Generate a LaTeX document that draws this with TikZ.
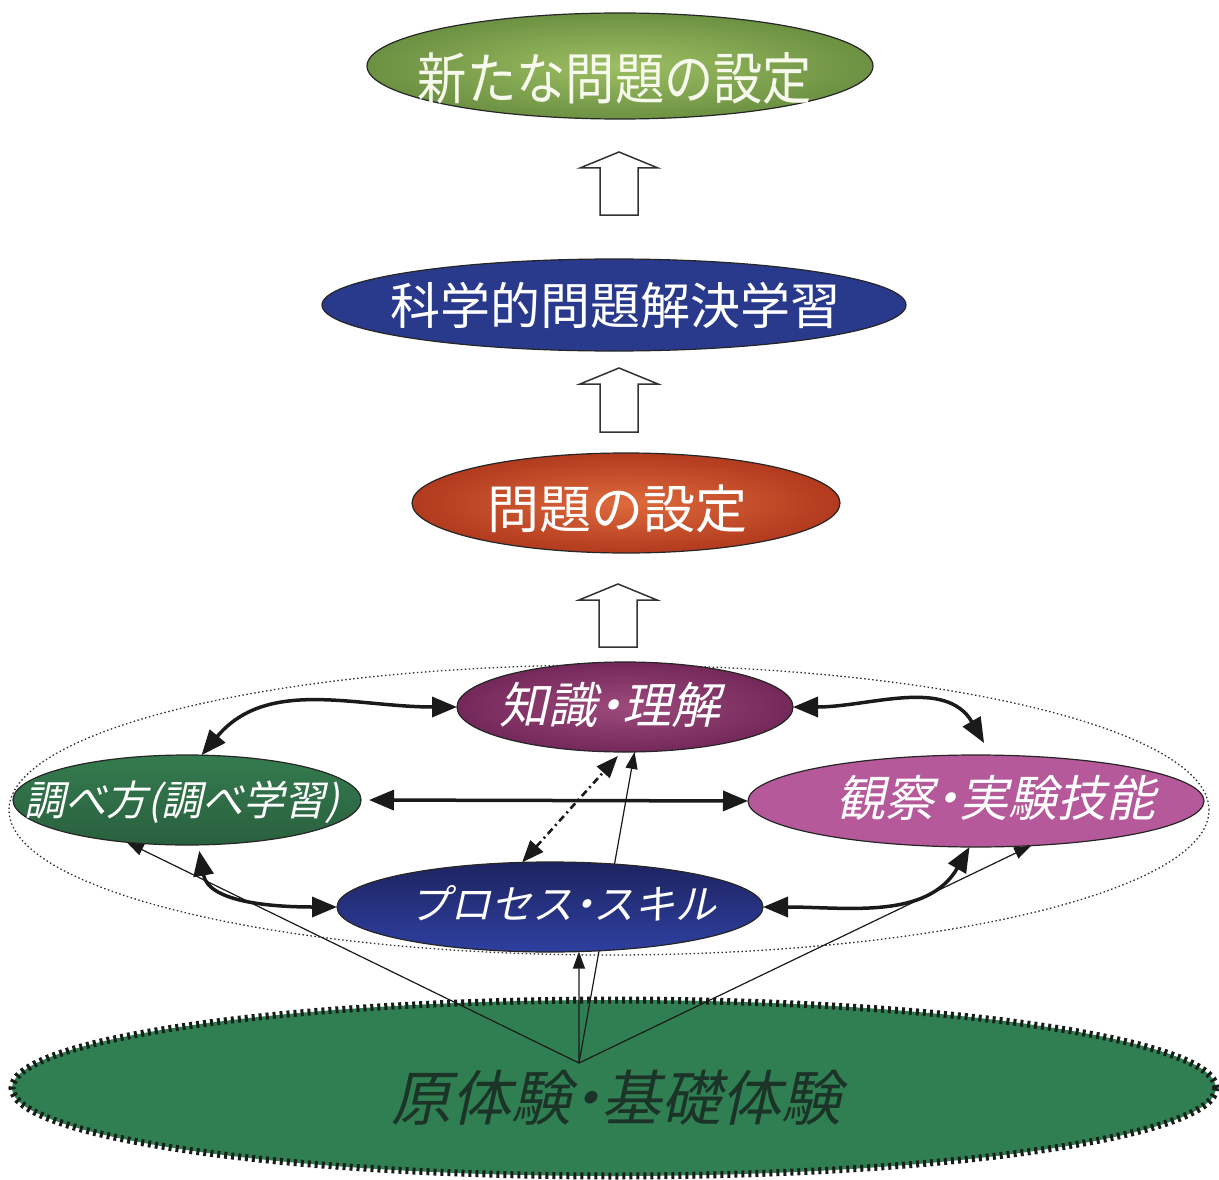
\documentclass[tikz,border=0pt]{standalone}
\usepackage{fontspec}
\newfontfamily\jp{Noto Sans CJK JP}
\newfontfamily\jpc[FakeStretch=0.88]{Noto Sans CJK JP}
\newfontfamily\jpit[FakeSlant=0.22]{Noto Sans CJK JP}
\newcommand{\nd}{\kern-.25em・\kern-.25em}
\usetikzlibrary{shapes.geometric,arrows.meta,calc}
\definecolor{topIn}{HTML}{9DBE63}
\definecolor{topOut}{HTML}{6C9142}
\definecolor{topTxt}{HTML}{F6F9EC}
\definecolor{kagakuC}{HTML}{29398C}
\definecolor{mondaiIn}{HTML}{DE6A3C}
\definecolor{mondaiOut}{HTML}{B23A1E}
\definecolor{chiIn}{HTML}{9C4A7B}
\definecolor{chiOut}{HTML}{74285A}
\definecolor{shiTop}{HTML}{357B4F}
\definecolor{shiBot}{HTML}{29603E}
\definecolor{kanEdge}{HTML}{B6599B}
\definecolor{kanMid}{HTML}{862E84}
\definecolor{proTop}{HTML}{1E2460}
\definecolor{proMid}{HTML}{0B0B1E}
\definecolor{proBot}{HTML}{2E3FA0}
\definecolor{baseG}{HTML}{2F7F52}
\definecolor{baseB}{HTML}{151E18}
\definecolor{baseTxt}{HTML}{1C3328}
\definecolor{lineC}{HTML}{1A1A1A}
\begin{document}
\begin{tikzpicture}[x=1pt,y=-1pt,
  el/.style={ellipse, draw=black!85, line width=1.2pt, inner sep=0pt, outer sep=0pt},
  lbl/.style={inner sep=0pt, text=white},
  dbl/.style={line width=3.5pt, draw=lineC, {Triangle[length=25pt,width=20pt]}-{Triangle[length=25pt,width=20pt]}},
  thinarr/.style={line width=1.2pt, draw=lineC, -{Triangle[length=17pt,width=12pt]}},
  dashdotarr/.style={line width=2.6pt, draw=lineC, dash pattern=on 7pt off 4pt on 2pt off 4pt, {Triangle[length=22pt,width=17pt]}-{Triangle[length=22pt,width=17pt]}},
  blockarrow/.style={draw=black!80, line width=1.5pt, fill=white, line join=miter}
]
\useasboundingbox (0,0) rectangle (1219,1180);
\fill[white] (0,0) rectangle (1219,1180);

% base ellipse
\node[ellipse, fill=baseG, draw=baseB, line width=7pt, dash pattern=on 3pt off 4pt,
      minimum width=1204pt, minimum height=176pt, inner sep=0pt] (base) at (614,1088) {};
\node[lbl, text=baseTxt, font=\jpit\fontsize{60}{64}\selectfont] (baseT) at (616,1098) {原体験\nd 基礎体験};

% dotted zone
\node[ellipse, draw=black!80, line width=1.3pt, dash pattern=on 1.5pt off 2.5pt,
      minimum width=1200pt, minimum height=290pt, inner sep=0pt] (zone) at (609,810) {};

% upper ellipses
\node[el, minimum width=506pt, minimum height=106pt, inner color=topIn, outer color=topOut] (top) at (620,66) {};
\node[lbl, text=topTxt, font=\jpc\fontsize{56}{60}\selectfont] (topT) at (615,78) {新たな問題の設定};

\node[el, minimum width=584pt, minimum height=92pt, fill=kagakuC] (kagaku) at (614,305) {};
\node[lbl, font=\jp\fontsize{50}{54}\selectfont] (kagakuT) at (615,305) {科学的問題解決学習};

\node[el, minimum width=428pt, minimum height=100pt, inner color=mondaiIn, outer color=mondaiOut] (mondai) at (626,503) {};
\node[lbl, font=\jp\fontsize{52}{56}\selectfont] (mondaiT) at (617,509) {問題の設定};

% source point of thin lines
\coordinate (src) at (579,1063);

% anchor shapes of the bottom cluster
\path node[el, draw=none, minimum width=336pt, minimum height=90pt] (kn) at (625,707) {}
      node[el, draw=none, minimum width=348pt, minimum height=90pt] (sh) at (187,800) {}
      node[el, draw=none, minimum width=456pt, minimum height=92pt] (kan) at (976,801) {}
      node[el, draw=none, minimum width=426pt, minimum height=90pt] (pro) at (550,907) {};

% thin lines (behind coloured ellipses)
\draw[thinarr] (src) -- (sh.-145);
\draw[thinarr] (src) -- (kn.-78);
\draw[thinarr] (src) -- (pro.-57);
\draw[thinarr] (src) -- (kan.-39.5);

% coloured ellipses of the cluster
\node[el, minimum width=336pt, minimum height=90pt, inner color=chiIn, outer color=chiOut] (knF) at (625,707) {};
\node[lbl, font=\jpit\fontsize{49}{52}\selectfont] (knT) at (610,705) {知識\nd 理解};

\node[el, minimum width=348pt, minimum height=90pt, top color=shiTop, bottom color=shiBot] (shF) at (187,800) {};
\node[lbl, font=\jpit\fontsize{41}{44}\selectfont] (shT) at (182,802) {調べ方(調べ学習)};

\node[el, minimum width=456pt, minimum height=92pt, top color=kanEdge, middle color=kanMid, bottom color=kanEdge] (kanF) at (976,801) {};
\node[lbl, font=\jpit\fontsize{49}{52}\selectfont] (kanT) at (996,798) {観察\nd 実験技能};

\node[el, minimum width=426pt, minimum height=90pt, top color=proTop, middle color=proMid, bottom color=proBot] (proF) at (550,907) {};
\node[lbl, font=\jpit\fontsize{41}{44}\selectfont] (proT) at (563,903) {プロセス\nd スキル};

% thick double arrows
\draw[dbl] (kn.west) to[out=180,in=50] (sh.72);
\draw[dbl] (kn.east) to[out=0,in=120] ([yshift=12pt]kan.80);
\draw[dbl, shorten <=8pt] (sh.east) -- (kan.west);
\draw[dbl, shorten <=6pt] (sh.-76) to[out=-80,in=180] (pro.west);
\draw[dbl] (pro.east) to[out=0,in=-120] (kan.-98);
\draw[dashdotarr] (pro.122) -- ([yshift=-4pt]kn.-99);

% block arrows between the upper ellipses
\coordinate (ba1) at (619,152);
\coordinate (ba2) at (619,368);
\coordinate (ba3) at (618,584);
\foreach \c/\len in {ba1/63, ba2/64, ba3/63}{
  \draw[blockarrow] (\c) -- ++(39,16) -- ++(-20,0) -- ++(0,\len-16) -- ++(-38,0) -- ++(0,16-\len) -- ++(-20,0) -- cycle;
}
\end{tikzpicture}
\end{document}
